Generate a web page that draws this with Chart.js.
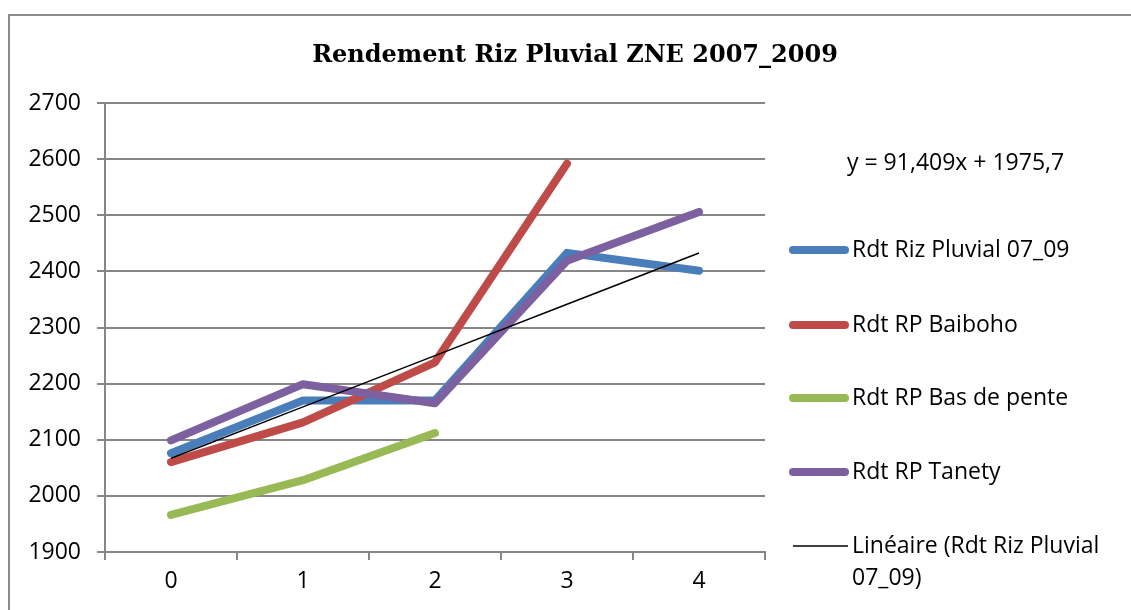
<!DOCTYPE html>
<html>
<head>
<meta charset="utf-8">
<script src="https://cdn.jsdelivr.net/npm/chart.js@4/dist/chart.umd.min.js"></script>
<style>
  html, body { margin: 0; padding: 0; background: #fff; }
  #wrap { width: 1131px; height: 610px; position: relative; }
</style>
</head>
<body>
<div id="wrap"><canvas id="rdt"></canvas></div>
<script>
// --- données ---
const categories = ['0', '1', '2', '3', '4'];
const rdtRizPluvial = [2076, 2170, 2170, 2433, 2401];
const rdtBaiboho = [2060, 2131, 2238, 2592, null];
const rdtBasDePente = [1966, 2028, 2112, null, null];
const rdtTanety = [2099, 2199, 2165, 2419, 2506];
const lineaire = [2067.1, 2158.5, 2249.9, 2341.3, 2432.7];
const yTicks = [1900, 2000, 2100, 2200, 2300, 2400, 2500, 2600, 2700];

const titre = 'Rendement Riz Pluvial ZNE 2007_2009';
const equation = 'y = 91,409x + 1975,7';

const FONT = '"Open Sans", "Liberation Sans", sans-serif';
const GRIS = '#868686';

// cadre, titre et légende façon Excel
const decor = {
  id: 'decor',
  beforeDraw(chart) {
    const ctx = chart.ctx;
    ctx.save();
    ctx.fillStyle = '#fff';
    ctx.fillRect(0, 0, chart.width, chart.height);
    ctx.strokeStyle = '#8c8c8c';
    ctx.lineWidth = 2;
    ctx.strokeRect(9, 15, 1300, 800);
    ctx.restore();
  },
  afterDraw(chart) {
    const ctx = chart.ctx;
    ctx.save();
    ctx.fillStyle = '#000';
    ctx.font = 'bold 24px "DejaVu Serif", serif';
    ctx.textAlign = 'center';
    ctx.textBaseline = 'alphabetic';
    ctx.fillText(titre, 575, 62);

    ctx.font = '23px ' + FONT;
    ctx.textAlign = 'left';
    ctx.textBaseline = 'middle';
    ctx.fillText(equation, 847, 163);

    const rows = [250, 325, 398, 472];
    chart.data.datasets.slice(0, 4).forEach((ds, i) => {
      const y = rows[i];
      ctx.strokeStyle = ds.borderColor;
      ctx.lineWidth = 8;
      ctx.lineCap = 'round';
      ctx.beginPath();
      ctx.moveTo(793, y);
      ctx.lineTo(845, y);
      ctx.stroke();
      ctx.fillStyle = '#000';
      ctx.fillText(ds.label, 852, y);
    });
    ctx.strokeStyle = '#000';
    ctx.lineWidth = 1.5;
    ctx.lineCap = 'butt';
    ctx.beginPath();
    ctx.moveTo(793, 546);
    ctx.lineTo(848, 546);
    ctx.stroke();
    ctx.fillText('Linéaire (Rdt Riz Pluvial', 852, 546);
    ctx.fillText('07_09)', 852, 578);
    ctx.restore();
  }
};

function serie(label, data, color, order, width) {
  return {
    label: label,
    data: data,
    borderColor: color,
    backgroundColor: color,
    borderWidth: width,
    borderCapStyle: 'round',
    borderJoinStyle: 'round',
    pointRadius: 0,
    tension: 0,
    spanGaps: false,
    order: order
  };
}

new Chart(document.getElementById('rdt'), {
  type: 'line',
  data: {
    labels: categories,
    datasets: [
      serie('Rdt Riz Pluvial 07_09', rdtRizPluvial, '#4a7ebb', 4, 8),
      serie('Rdt RP Baiboho', rdtBaiboho, '#be4b48', 3, 8),
      serie('Rdt RP Bas de pente', rdtBasDePente, '#98b954', 2, 8),
      serie('Rdt RP Tanety', rdtTanety, '#7d60a0', 1, 8),
      Object.assign(serie('Linéaire (Rdt Riz Pluvial 07_09)', lineaire, '#000', 0, 1.5), { borderCapStyle: 'butt' })
    ]
  },
  options: {
    responsive: true,
    maintainAspectRatio: false,
    animation: false,
    events: [],
    layout: { padding: { top: 103, right: 366, bottom: 0, left: 0 } },
    plugins: { legend: { display: false }, title: { display: false }, tooltip: { enabled: false } },
    scales: {
      x: {
        offset: true,
        grid: { offset: true, drawOnChartArea: false, drawTicks: true, tickLength: 8, color: GRIS, lineWidth: 2 },
        border: { color: GRIS, width: 2 },
        ticks: { color: '#000', font: { family: FONT, size: 23 }, padding: 8, maxRotation: 0 },
        afterFit(scale) { scale.height = 58; }
      },
      y: {
        min: 1900,
        max: 2700,
        afterBuildTicks(scale) { scale.ticks = yTicks.map(v => ({ value: v })); },
        grid: { color: GRIS, lineWidth: 2, tickLength: 8 },
        border: { color: GRIS, width: 2 },
        ticks: { color: '#000', font: { family: FONT, size: 23 }, padding: 16, callback: v => String(v) },
        afterFit(scale) { scale.width = 105; }
      }
    }
  },
  plugins: [decor]
});
</script>
</body>
</html>
